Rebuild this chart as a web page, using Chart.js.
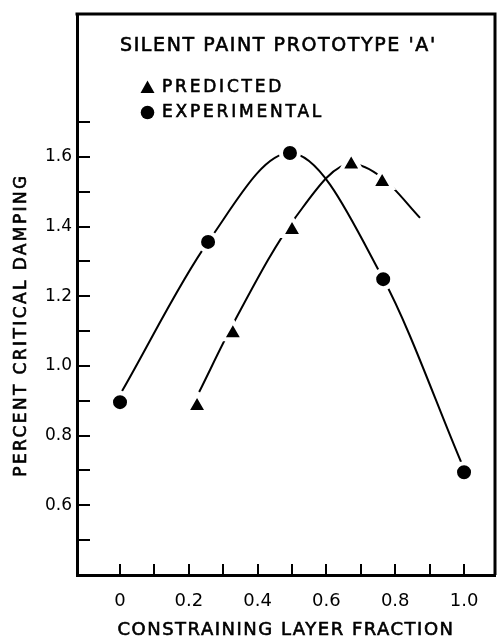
<!DOCTYPE html>
<html>
<head>
<meta charset="utf-8">
<title>Silent paint prototype A</title>
<script src="https://cdn.jsdelivr.net/npm/chart.js@4.4.0/dist/chart.umd.min.js"></script>
<style>
    html, body { margin: 0; padding: 0; background: #fff; overflow: hidden; }
    canvas { display: block; }
</style>
</head>
<body>
<canvas id="myChart" width="498" height="638"></canvas>
<script>
// measured points
var predictedX = [0.224, 0.328, 0.5, 0.672, 0.762];
var predictedY = [0.885, 1.094, 1.39, 1.578, 1.528];
var experimentalX = [0, 0.256, 0.494, 0.765, 1.0];
var experimentalY = [0.896, 1.356, 1.611, 1.249, 0.695];

// hand drawn curves
var predCurveX = [0.23, 0.33, 0.509, 0.672, 0.762, 0.872];
var predCurveY = [0.925, 1.123, 1.425, 1.58, 1.54, 1.425];
var expCurveX = [0.006, 0.256, 0.494, 0.765, 0.994];
var expCurveY = [0.928, 1.356, 1.611, 1.25, 0.718];

var xLabelValues = [0, 0.2, 0.4, 0.6, 0.8, 1.0];
var xTickLabels = ['0', '0.2', '0.4', '0.6', '0.8', '1.0'];
var xMinorTicks = [0, 0.1, 0.2, 0.3, 0.4, 0.5, 0.6, 0.7, 0.8, 0.9, 1.0];
var yLabelValues = [0.6, 0.8, 1.0, 1.2, 1.4, 1.6];
var yTickLabels = ['0.6', '0.8', '1.0', '1.2', '1.4', '1.6'];
var yMinorTicks = [0.5, 0.6, 0.7, 0.8, 0.9, 1.0, 1.1, 1.2, 1.3, 1.4, 1.5, 1.6, 1.7];

var chartTitle = "SILENT PAINT PROTOTYPE 'A'";
var legendLabels = ['PREDICTED', 'EXPERIMENTAL'];
var xTitle = 'CONSTRAINING LAYER FRACTION';
var yTitle = 'PERCENT CRITICAL DAMPING';

function pairs(xs, ys) {
    return xs.map(function (x, i) { return { x: x, y: ys[i] }; });
}

// frame, inward ticks, titles and the boxed legend
var paperPlugin = {
    id: 'paper',
    afterDraw: function (chart) {
        var ctx = chart.ctx, a = chart.chartArea;
        var xs = chart.scales.x, ys = chart.scales.y;
        ctx.save();
        ctx.strokeStyle = '#000';
        ctx.fillStyle = '#000';

        ctx.lineWidth = 3;
        ctx.beginPath();
        ctx.moveTo(a.left - 1.5, a.top);
        ctx.lineTo(a.right, a.top);
        ctx.lineTo(a.right, a.bottom);
        ctx.stroke();

        ctx.lineWidth = 2;
        xMinorTicks.forEach(function (v) {
            var px = Math.round(xs.getPixelForValue(v));
            ctx.beginPath();
            ctx.moveTo(px, a.bottom);
            ctx.lineTo(px, a.bottom - 11);
            ctx.stroke();
        });
        yMinorTicks.forEach(function (v) {
            var py = Math.round(ys.getPixelForValue(v));
            ctx.beginPath();
            ctx.moveTo(a.left, py);
            ctx.lineTo(a.left + 13, py);
            ctx.stroke();
        });

        ctx.textBaseline = 'middle';
        ctx.textAlign = 'left';
        ctx.lineWidth = 0.6;
        ctx.font = '19px "DejaVu Sans"';
        ctx.letterSpacing = '1.6px';
        ctx.fillText(chartTitle, 120, 46);
        ctx.strokeText(chartTitle, 120, 46);

        ctx.font = '17px "DejaVu Sans"';
        ctx.letterSpacing = '2.8px';
        ctx.fillText(legendLabels[0], 162, 88);
        ctx.strokeText(legendLabels[0], 162, 88);
        ctx.fillText(legendLabels[1], 162, 113);
        ctx.strokeText(legendLabels[1], 162, 113);
        // legend symbols
        ctx.beginPath();
        ctx.moveTo(147.5, 80.5);
        ctx.lineTo(154.5, 93);
        ctx.lineTo(140.5, 93);
        ctx.closePath();
        ctx.fill();
        ctx.beginPath();
        ctx.arc(147.5, 112.5, 6.8, 0, Math.PI * 2);
        ctx.fill();

        ctx.textAlign = 'center';
        ctx.font = '18px "DejaVu Sans"';
        ctx.letterSpacing = '1.5px';
        ctx.fillText(xTitle, 286, 630);
        ctx.strokeText(xTitle, 286, 630);

        ctx.translate(22, 325);
        ctx.rotate(-Math.PI / 2);
        ctx.font = '17px "DejaVu Sans"';
        ctx.letterSpacing = '2.4px';
        ctx.fillText(yTitle, 0, 0);
        ctx.strokeText(yTitle, 0, 0);
        ctx.restore();
    }
};

var ctx = document.getElementById('myChart');
var myChart = new Chart(ctx, {
    type: 'scatter',
    data: {
        datasets: [{
            label: legendLabels[1],
            data: pairs(experimentalX, experimentalY),
            pointStyle: 'circle',
            pointRadius: 9,
            pointBackgroundColor: '#000',
            pointBorderColor: '#fff',
            pointBorderWidth: 4,
            showLine: false
        },
        {
            label: legendLabels[0],
            data: pairs(predictedX, predictedY),
            pointStyle: 'triangle',
            pointRadius: 12,
            pointBackgroundColor: '#000',
            pointBorderColor: '#fff',
            pointBorderWidth: 4,
            showLine: false
        },
        {
            label: 'experimental curve',
            data: pairs(expCurveX, expCurveY),
            showLine: true,
            pointRadius: 0,
            borderColor: '#000',
            borderWidth: 2,
            cubicInterpolationMode: 'monotone'
        },
        {
            label: 'predicted curve',
            data: pairs(predCurveX, predCurveY),
            showLine: true,
            pointRadius: 0,
            borderColor: '#000',
            borderWidth: 2,
            cubicInterpolationMode: 'monotone'
        }
        ]
    },
    options: {
        responsive: false,
        animation: false,
        events: [],
        layout: { autoPadding: false, padding: { top: 14, right: 3, left: 0, bottom: 0 } },
        plugins: {
            legend: { display: false },
            tooltip: { enabled: false }
        },
        scales: {
            x: {
                type: 'linear',
                min: -0.125,
                max: 1.09,
                afterBuildTicks: function (s) {
                    s.ticks = xLabelValues.map(function (v) { return { value: v }; });
                },
                afterFit: function (s) {
                    s.height = 63;
                    s.paddingLeft = 0;
                    s.paddingRight = 0;
                },
                grid: { display: true, drawOnChartArea: false, drawTicks: false },
                border: { display: true, color: '#000', width: 3 },
                ticks: {
                    color: '#000',
                    padding: 16,
                    maxRotation: 0,
                    autoSkip: false,
                    font: { family: 'DejaVu Sans', size: 18 },
                    callback: function (v, i) { return xTickLabels[i]; }
                }
            },
            y: {
                type: 'linear',
                min: 0.4,
                max: 2.01,
                afterBuildTicks: function (s) {
                    s.ticks = yLabelValues.map(function (v) { return { value: v }; });
                },
                afterFit: function (s) {
                    s.width = 77;
                    s.paddingTop = 0;
                    s.paddingBottom = 0;
                },
                grid: { display: true, drawOnChartArea: false, drawTicks: false },
                border: { display: true, color: '#000', width: 3 },
                ticks: {
                    color: '#000',
                    padding: 5,
                    font: { family: 'DejaVu Sans', size: 17 },
                    callback: function (v, i) { return yTickLabels[i]; }
                }
            }
        }
    },
    plugins: [paperPlugin]
});
</script>
</body>
</html>
